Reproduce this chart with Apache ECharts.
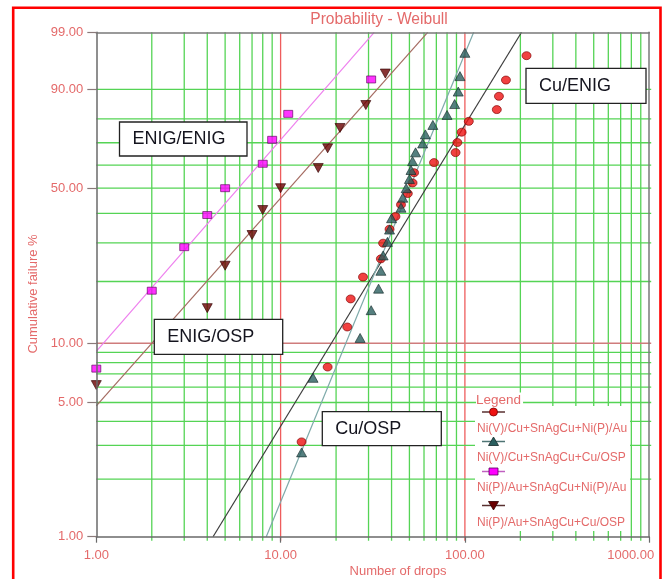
<!DOCTYPE html>
<html>
<head>
<meta charset="utf-8">
<script src="https://cdn.jsdelivr.net/npm/echarts@6/dist/echarts.min.js"></script>
<style>
  html, body { margin: 0; padding: 0; background: #ffffff; }
  #chart { width: 662px; height: 579px; }
</style>
</head>
<body>
<div id="chart"></div>
<script>
// Weibull probability plot of board-level drop test failures.

// Ni(V)/Cu+SnAgCu+Ni(P)/Au  (Cu/ENIG)
const cuEnigDrops = [13, 18, 23, 24, 28, 35, 36, 39, 42, 45, 49, 52, 53, 68, 89, 91, 96, 105, 149, 153, 167, 216];
const cuEnigFailPct = [3.13, 7.59, 12.05, 16.52, 20.98, 25.45, 29.91, 34.38, 38.84, 43.30, 47.77,
  52.23, 56.70, 61.16, 65.63, 70.09, 74.55, 79.02, 83.48, 87.95, 92.41, 96.88];

// Ni(V)/Cu+SnAgCu+Cu/OSP  (Cu/OSP)
const cuOspDrops = [13, 15, 27, 31, 34, 35, 36, 38, 39, 40, 45, 46, 48, 50, 51, 52, 54, 59, 61, 67, 80, 88, 92, 94, 100];
const cuOspFailPct = [2.76, 6.69, 10.63, 14.57, 18.50, 22.44, 26.38, 30.31, 34.25, 38.19, 42.13, 46.06, 50.00,
  53.94, 57.87, 61.81, 65.75, 69.69, 73.62, 77.56, 81.50, 85.43, 89.37, 93.31, 97.24];

// Ni(P)/Au+SnAgCu+Ni(P)/Au  (ENIG/ENIG)
const enigEnigDrops = [1, 2, 3, 4, 5, 8, 9, 11, 31];
const enigEnigFailPct = [7.45, 18.09, 28.72, 39.36, 50.00, 60.64, 71.28, 81.91, 92.55];

// Ni(P)/Au+SnAgCu+Cu/OSP  (ENIG/OSP)
const enigOspDrops = [1, 4, 5, 7, 8, 10, 16, 18, 21, 29, 37];
const enigOspFailPct = [6.14, 14.91, 23.68, 32.46, 41.23, 50.00, 58.77, 67.54, 76.32, 85.09, 93.86];

// Fitted Weibull lines: [drops, failure %] at both ends of the visible segment
const cuEnigFit = [[4.30, 1], [203, 99]];
const cuOspFit = [[8.36, 1], [111.6, 99]];
const enigEnigFit = [[1, 9.1], [32.2, 99]];
const enigOspFit = [[1, 4.8], [62.8, 99]];

// Paper grid and tick labels
const xGridGreen = [2, 3, 4, 5, 6, 7, 8, 9, 20, 30, 40, 50, 60, 70, 80, 90, 200, 300, 400, 500, 600, 700, 800, 900];
const xGridRed = [10, 100];
const yGridGreen = [2, 3, 4, 5, 6, 7, 8, 9, 20, 30, 40, 50, 60, 70, 80, 90];
const yGridRed = [10];
const yTickPct = [1, 5, 10, 50, 90, 99];

const seriesNames = [
  'Ni(V)/Cu+SnAgCu+Ni(P)/Au',
  'Ni(V)/Cu+SnAgCu+Cu/OSP',
  'Ni(P)/Au+SnAgCu+Ni(P)/Au',
  'Ni(P)/Au+SnAgCu+Cu/OSP'
];

const FONT = '"Liberation Sans", Arial, sans-serif';
const LABEL_RED = '#e46a6a';
const GREEN = '#55d455';

// Weibull probability scale: y = ln(-ln(1 - F))
function weib(p) { return Math.log(-Math.log(1 - p / 100)); }
function unweib(w) { return 100 * (1 - Math.exp(-Math.exp(w))); }

const Y_MIN = weib(1);
const Y_MAX = weib(99);

const toPoints = (xs, ps) => xs.map((x, i) => [x, weib(ps[i])]);
const fitPoints = (seg) => seg.map(([x, p]) => [x, weib(p)]);

// grid line items: [x, y, kind]  kind 0/1 vertical green/red, 2/3 horizontal green/red
const gridItems = [];
xGridGreen.forEach(v => gridItems.push([v, weib(50), 0]));
xGridRed.forEach(v => gridItems.push([v, weib(50), 1]));
yGridGreen.forEach(p => gridItems.push([10, weib(p), 2]));
yGridRed.forEach(p => gridItems.push([10, weib(p), 3]));

const chart = echarts.init(document.getElementById('chart'), null, { renderer: 'canvas' });

function boxLabel(x, y, w, h, text) {
  return {
    type: 'group', z: 20,
    children: [
      { type: 'rect', z: 20, shape: { x: x, y: y, width: w, height: h },
        style: { fill: '#ffffff', stroke: '#222222', lineWidth: 1.3 } },
      { type: 'text', z: 21, x: x + 13, y: y + h / 2,
        style: { text: text, font: '18px ' + FONT, fill: '#14141e', align: 'left', verticalAlign: 'middle' } }
    ]
  };
}

function legendItem(cy, ty, lineColor, marker, text) {
  return [
    { type: 'line', z: 11, shape: { x1: 482, y1: cy, x2: 505, y2: cy }, style: { stroke: lineColor, lineWidth: 1.5 } },
    Object.assign({ z: 12 }, marker),
    { type: 'text', z: 12, x: 477, y: ty,
      style: { text: text, font: '12px ' + FONT, fill: LABEL_RED, align: 'left', verticalAlign: 'middle' } }
  ];
}

const legendX = 493.5;
const legendElements = [
  { type: 'rect', z: 10, shape: { x: 475, y: 406, width: 155, height: 125 }, style: { fill: '#ffffff' } },
  { type: 'text', z: 12, x: 476, y: 400.5,
    style: { text: 'Legend', font: '13.5px ' + FONT, fill: LABEL_RED, align: 'left', verticalAlign: 'middle',
      backgroundColor: '#ffffff', padding: [1, 2, 1, 0] } }
].concat(
  legendItem(412, 428.7, '#5a3030',
    { type: 'circle', shape: { cx: legendX, cy: 412, r: 4 }, style: { fill: '#ee1111', stroke: '#7a0000', lineWidth: 0.8 } },
    seriesNames[0]),
  legendItem(441.5, 458, '#4f7474',
    { type: 'polygon', shape: { points: [[legendX - 5, 445.5], [legendX + 5, 445.5], [legendX, 437]] },
      style: { fill: '#2a5f5f', stroke: '#142828', lineWidth: 0.8 } },
    seriesNames[1]),
  legendItem(471.5, 488, '#c060c0',
    { type: 'rect', shape: { x: legendX - 4.5, y: 468, width: 9, height: 7 }, style: { fill: '#ff00ff', stroke: '#5a005a', lineWidth: 0.8 } },
    seriesNames[2]),
  legendItem(505.5, 522.3, '#5a3030',
    { type: 'polygon', shape: { points: [[legendX - 5, 501.5], [legendX + 5, 501.5], [legendX, 510]] },
      style: { fill: '#6a0000', stroke: '#300000', lineWidth: 0.8 } },
    seriesNames[3])
);

const option = {
  animation: false,
  backgroundColor: '#ffffff',
  grid: { left: 96.3, right: 12.8, top: 32.3, bottom: 42.3, containLabel: false },
  xAxis: [
    {
      type: 'log', logBase: 10, min: 1, max: 1000, z: 5,
      axisLine: { show: true, onZero: false, lineStyle: { color: '#6a6a6a', width: 1.5 } },
      axisTick: { show: true, length: 6, lineStyle: { color: '#6a6a6a', width: 1.2 } },
      minorTick: { show: false },
      splitLine: { show: false },
      axisLabel: {
        margin: 12, color: LABEL_RED, fontSize: 13, fontFamily: FONT,
        formatter: v => Math.abs(v - 1000) < 1e-6 ? '{end|' + v.toFixed(2) + '}' : v.toFixed(2),
        rich: { end: { color: LABEL_RED, fontSize: 13, fontFamily: FONT, padding: [0, 37, 0, 0] } }
      }
    },
    {
      type: 'log', logBase: 10, min: 1, max: 1000, position: 'top', z: 5,
      axisLine: { show: true, onZero: false, lineStyle: { color: '#7a7a7a', width: 1.5 } },
      axisTick: { show: false }, axisLabel: { show: false }, splitLine: { show: false }
    }
  ],
  yAxis: [
    {
      type: 'value', min: Y_MIN, max: Y_MAX, z: 5,
      axisLine: { show: true, onZero: false, lineStyle: { color: '#6a6a6a', width: 1.5 } },
      axisTick: { show: true, customValues: yTickPct.map(weib), length: 9, lineStyle: { color: '#8a7a7a', width: 1.2 } },
      axisLabel: {
        customValues: yTickPct.map(weib), margin: 13, color: LABEL_RED, fontSize: 13, fontFamily: FONT,
        formatter: v => unweib(v).toFixed(2)
      },
      splitLine: { show: false }
    },
    {
      type: 'value', min: Y_MIN, max: Y_MAX, position: 'right', z: 5,
      axisLine: { show: true, onZero: false, lineStyle: { color: '#7a7a7a', width: 1.5 } },
      axisTick: { show: false }, axisLabel: { show: false }, splitLine: { show: false }
    }
  ],
  series: [
    {
      type: 'custom', name: 'paper grid', z: 1, silent: true, clip: false,
      encode: { x: 0, y: 1 },
      data: gridItems,
      renderItem: function (params, api) {
        const kind = api.value(2);
        let p1, p2;
        if (kind < 2) {
          const v = api.value(0);
          p1 = api.coord([v, Y_MIN]); p2 = api.coord([v, Y_MAX]);
          p1[1] += 4;
        } else {
          const v = api.value(1);
          p1 = api.coord([1, v]); p2 = api.coord([1000, v]);
          p2[0] += 2;
        }
        const color = kind === 1 ? '#ee5c5c' : kind === 3 ? '#cf7c7c' : GREEN;
        return {
          type: 'line',
          shape: { x1: p1[0], y1: p1[1], x2: p2[0], y2: p2[1] },
          style: { stroke: color, lineWidth: 1.3 }
        };
      }
    },
    { type: 'line', name: seriesNames[0] + ' fit', data: fitPoints(cuEnigFit), symbol: 'none', silent: true, z: 3,
      lineStyle: { color: '#3c3c3c', width: 1.2 } },
    { type: 'line', name: seriesNames[1] + ' fit', data: fitPoints(cuOspFit), symbol: 'none', silent: true, z: 3,
      lineStyle: { color: '#7eaaaa', width: 1.2 } },
    { type: 'line', name: seriesNames[2] + ' fit', data: fitPoints(enigEnigFit), symbol: 'none', silent: true, z: 3,
      lineStyle: { color: '#ee80ee', width: 1.2 } },
    { type: 'line', name: seriesNames[3] + ' fit', data: fitPoints(enigOspFit), symbol: 'none', silent: true, z: 3,
      lineStyle: { color: '#a46a60', width: 1.2 } },
    { type: 'scatter', name: seriesNames[0], data: toPoints(cuEnigDrops, cuEnigFailPct), clip: false, z: 4,
      symbol: 'circle', symbolSize: [9, 8],
      itemStyle: { color: '#ee1111', borderColor: '#7a0000', borderWidth: 0.8 } },
    { type: 'scatter', name: seriesNames[1], data: toPoints(cuOspDrops, cuOspFailPct), clip: false, z: 4,
      symbol: 'triangle', symbolSize: [10, 9],
      itemStyle: { color: '#2a5f5f', borderColor: '#142828', borderWidth: 0.8 } },
    { type: 'scatter', name: seriesNames[2], data: toPoints(enigEnigDrops, enigEnigFailPct), clip: false, z: 4,
      symbol: 'rect', symbolSize: [9, 7],
      itemStyle: { color: '#ff00ff', borderColor: '#5a005a', borderWidth: 0.8 } },
    { type: 'scatter', name: seriesNames[3], data: toPoints(enigOspDrops, enigOspFailPct), clip: false, z: 4,
      symbol: 'triangle', symbolRotate: 180, symbolSize: [10, 9],
      itemStyle: { color: '#6a0000', borderColor: '#300000', borderWidth: 0.8 } }
  ],
  graphic: [
    { type: 'rect', z: 30, shape: { x: 13.2, y: 7.7, width: 647.3, height: 620 },
      style: { fill: 'none', stroke: '#ff0000', lineWidth: 2.6 } },
    { type: 'text', z: 15, x: 379, y: 19.5,
      style: { text: 'Probability - Weibull', font: '15.6px ' + FONT, fill: LABEL_RED, align: 'center', verticalAlign: 'middle' } },
    { type: 'text', z: 15, x: 398, y: 571.7,
      style: { text: 'Number of drops', font: '13px ' + FONT, fill: LABEL_RED, align: 'center', verticalAlign: 'middle' } },
    { type: 'text', z: 15, x: 33, y: 294, rotation: Math.PI / 2,
      style: { text: 'Cumulative failure %', font: '13px ' + FONT, fill: LABEL_RED, align: 'center', verticalAlign: 'middle' } },
    boxLabel(119.5, 122, 127.5, 34, 'ENIG/ENIG'),
    boxLabel(154.3, 319.3, 128.4, 35, 'ENIG/OSP'),
    boxLabel(526, 68.3, 120, 35, 'Cu/ENIG'),
    boxLabel(322.3, 411.7, 119, 34, 'Cu/OSP')
  ].concat(legendElements)
};

chart.setOption(option);
</script>
</body>
</html>
